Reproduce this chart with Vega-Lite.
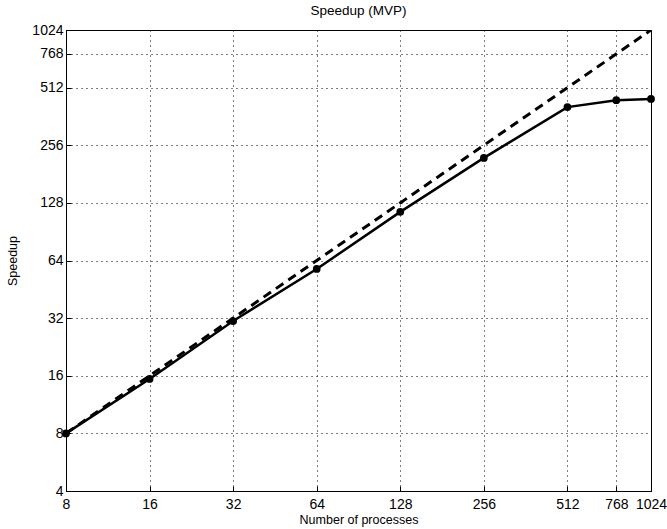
{
  "$schema": "https://vega.github.io/schema/vega-lite/v6.json",
  "autosize": "none",
  "width": 585,
  "height": 461,
  "padding": {"left": 66, "top": 30, "right": 16, "bottom": 38},
  "background": "white",
  "title": {"text": "Speedup (MVP)", "font": "Liberation Sans", "fontSize": 13.5, "fontWeight": "normal", "color": "black", "offset": 6},
  "config": {
    "view": {"stroke": "black", "strokeWidth": 1},
    "axis": {
      "labelFont": "Liberation Sans", "labelFontSize": 14, "labelColor": "black",
      "titleFont": "Liberation Sans", "titleFontSize": 12.5, "titleFontWeight": "normal", "titleColor": "black",
      "domainColor": "black", "tickColor": "black", "tickSize": -5,
      "grid": true, "gridColor": "black", "gridDash": [1, 4], "gridOpacity": 1, "gridWidth": 1,
      "labelOverlap": false, "labelFlush": false, "format": "d"
    }
  },
  "data": {"values": [
    {"p": 8, "s": 8, "series": "measured"},
    {"p": 16, "s": 15.4, "series": "measured"},
    {"p": 32, "s": 30.9, "series": "measured"},
    {"p": 64, "s": 57.8, "series": "measured"},
    {"p": 128, "s": 114.9, "series": "measured"},
    {"p": 256, "s": 219.8, "series": "measured"},
    {"p": 512, "s": 405, "series": "measured"},
    {"p": 768, "s": 440, "series": "measured"},
    {"p": 1024, "s": 447, "series": "measured"},
    {"p": 8, "s": 8, "series": "ideal"},
    {"p": 1024, "s": 1024, "series": "ideal"}
  ]},
  "encoding": {
    "x": {"field": "p", "type": "quantitative", "title": "Number of processes",
      "scale": {"type": "log", "base": 2, "domain": [8, 1024], "nice": false},
      "axis": {"values": [8, 16, 32, 64, 128, 256, 512, 768, 1024], "titlePadding": 2, "labelPadding": 11}},
    "y": {"field": "s", "type": "quantitative", "title": "Speedup",
      "scale": {"type": "log", "base": 2, "domain": [4, 1024], "nice": false},
      "axis": {"values": [4, 8, 16, 32, 64, 128, 256, 512, 768, 1024], "titlePadding": 12, "labelPadding": 8}}
  },
  "layer": [
    {"transform": [{"filter": "datum.series === 'ideal'"}],
     "mark": {"type": "line", "color": "black", "strokeWidth": 3, "strokeDash": [9, 6], "clip": true}},
    {"transform": [{"filter": "datum.series === 'measured'"}],
     "mark": {"type": "line", "color": "black", "strokeWidth": 2.5, "point": {"filled": true, "color": "black", "size": 60}}}
  ]
}
